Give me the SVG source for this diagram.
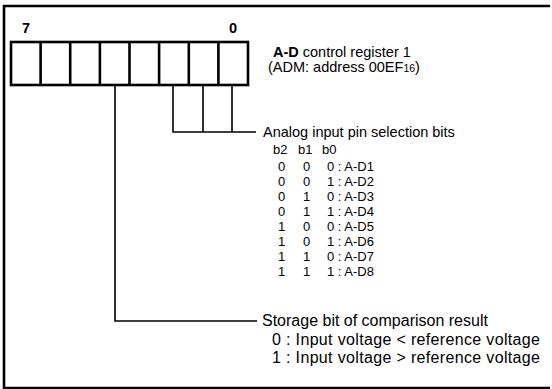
<svg xmlns="http://www.w3.org/2000/svg" width="552" height="389" viewBox="0 0 552 389">
<style>
.ln{stroke:#000;stroke-width:1.6;fill:none}
.fr{stroke:#000;stroke-width:2.6;fill:none}
.t{font-family:"Liberation Sans",Arial,sans-serif;font-size:14.5px;fill:#000}
.s{font-size:13px}
.l{font-size:16px}
.b{font-weight:bold}
</style>
<rect width="552" height="389" fill="#fff"/>
<g id="frame"><path class="fr" d="M550,6 H4 V388 H550"/></g>
<g id="register">
<text class="t b" x="22" y="33">7</text>
<text class="t b" x="229" y="33">0</text>
<rect class="fr" x="11" y="42" width="237" height="43"/>
<path class="fr" d="M40.6,42V85M70.2,42V85M99.9,42V85M129.5,42V85M159.1,42V85M188.8,42V85M218.4,42V85"/>
<text class="t" x="273" y="57"><tspan class="b">A-D</tspan> control register 1</text>
<text class="t" x="268" y="72">(ADM: address 00EF<tspan font-size="10.5">16</tspan>)</text>
</g>
<g id="connectors">
<path class="ln" d="M173,85V132H256M203,85V132M232,85V132"/>
<path class="ln" d="M115,85V321H257"/>
</g>
<g id="analog">
<text class="t" x="263" y="137">Analog input pin selection bits</text>
<g class="t s">
<text x="273" y="154">b2</text><text x="298" y="154">b1</text><text x="322" y="154">b0</text>
<text x="278" y="171">0</text><text x="303" y="171">0</text><text x="327" y="171">0 : A-D1</text>
<text x="278" y="186">0</text><text x="303" y="186">0</text><text x="327" y="186">1 : A-D2</text>
<text x="278" y="201">0</text><text x="303" y="201">1</text><text x="327" y="201">0 : A-D3</text>
<text x="278" y="216">0</text><text x="303" y="216">1</text><text x="327" y="216">1 : A-D4</text>
<text x="278" y="231">1</text><text x="303" y="231">0</text><text x="327" y="231">0 : A-D5</text>
<text x="278" y="246">1</text><text x="303" y="246">0</text><text x="327" y="246">1 : A-D6</text>
<text x="278" y="261">1</text><text x="303" y="261">1</text><text x="327" y="261">0 : A-D7</text>
<text x="278" y="276">1</text><text x="303" y="276">1</text><text x="327" y="276">1 : A-D8</text>
</g>
</g>
<g id="storage">
<text class="t l" x="262" y="326">Storage bit of comparison result</text>
<text class="t l" x="272" y="345" textLength="268">0 : Input voltage &lt; reference voltage</text>
<text class="t l" x="272" y="363" textLength="268">1 : Input voltage &gt; reference voltage</text>
</g>
</svg>
